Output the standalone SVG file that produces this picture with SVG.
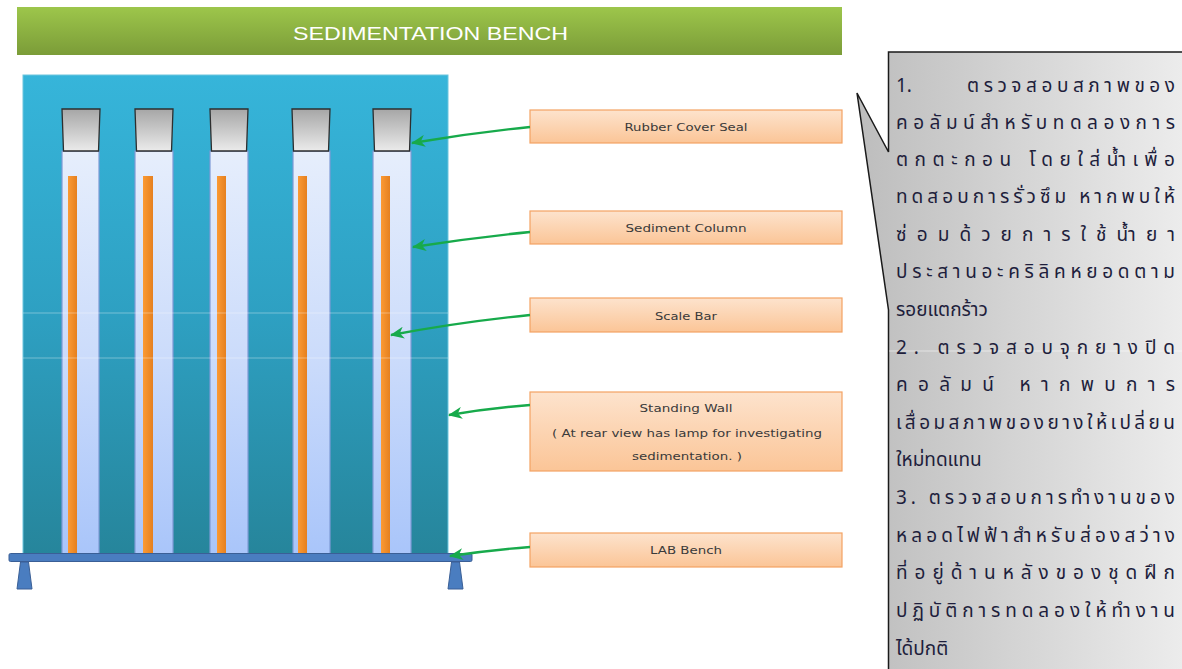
<svg xmlns="http://www.w3.org/2000/svg" width="1182" height="669" viewBox="0 0 1182 669">
  <defs>
    <linearGradient id="gTitle" x1="0" y1="0" x2="0" y2="1">
      <stop offset="0" stop-color="#9dc64b"/>
      <stop offset="1" stop-color="#7b9c38"/>
    </linearGradient>
    <linearGradient id="gWall" x1="0" y1="0" x2="0" y2="1">
      <stop offset="0" stop-color="#36b5da"/>
      <stop offset="0.5" stop-color="#2ea0c2"/>
      <stop offset="1" stop-color="#26859b"/>
    </linearGradient>
    <linearGradient id="gTube" x1="0" y1="0" x2="0" y2="1">
      <stop offset="0" stop-color="#e6eefc"/>
      <stop offset="0.5" stop-color="#ccdcfb"/>
      <stop offset="1" stop-color="#a9c5fa"/>
    </linearGradient>
    <linearGradient id="gCap" x1="0" y1="0" x2="0" y2="1">
      <stop offset="0" stop-color="#a6a6a6"/>
      <stop offset="1" stop-color="#ebebeb"/>
    </linearGradient>
    <linearGradient id="gBar" x1="0" y1="0" x2="1" y2="0">
      <stop offset="0" stop-color="#fb9a34"/>
      <stop offset="1" stop-color="#e5801f"/>
    </linearGradient>
    <linearGradient id="gBox" x1="0" y1="0" x2="0" y2="1">
      <stop offset="0" stop-color="#fde3cd"/>
      <stop offset="1" stop-color="#fbc597"/>
    </linearGradient>
    <linearGradient id="gNote" x1="857" y1="0" x2="1182" y2="0" gradientUnits="userSpaceOnUse">
      <stop offset="0" stop-color="#bdbdbd"/>
      <stop offset="1" stop-color="#ececec"/>
    </linearGradient>
    <marker id="arrow" viewBox="0 0 14 12" refX="13" refY="6" markerWidth="14" markerHeight="12" markerUnits="userSpaceOnUse" orient="auto">
      <path d="M14,6 L0,0 L4,6 L0,12 Z" fill="#17aa4b"/>
    </marker>
  </defs>
  <style>
    .tube { fill: url(#gTube); stroke: #7d9ad6; stroke-width: 1.2; }
    .cap { fill: url(#gCap); stroke: #2e2e2e; stroke-width: 1.3; }
    .bar { fill: url(#gBar); }
    .box { fill: url(#gBox); stroke: #f4a263; stroke-width: 1.2; }
    .lbl { font-family: "DejaVu Sans", "Liberation Sans", sans-serif; font-size: 11px; fill: #3a3a3a; text-anchor: middle; }
    .conn { fill: none; stroke: #17aa4b; stroke-width: 2.4; }
    .th { font-family: "Noto Sans Thai", "Noto Sans", "DejaVu Sans", sans-serif; font-size: 19px; fill: #1e1e3c; }
    .leg { fill: #4a7dc0; stroke: #3a5f96; stroke-width: 1; }
  </style>

  <!-- header bar -->
  <g id="title">
    <rect x="17" y="7" width="825" height="48" fill="url(#gTitle)"/>
    <text x="430.5" y="40" text-anchor="middle" font-family="Liberation Sans, sans-serif" font-size="19" fill="#ffffff" textLength="275" lengthAdjust="spacingAndGlyphs">SEDIMENTATION BENCH</text>
  </g>

  <!-- standing wall -->
  <g id="wall">
    <rect x="23" y="75" width="425" height="480" fill="url(#gWall)" stroke="#6cc6de" stroke-width="1"/>
  </g>

  <!-- sediment columns with caps and scale bars -->
  <g id="col1">
    <rect class="tube" x="62" y="151" width="37" height="404"/>
    <rect class="bar" x="68" y="176" width="9" height="379"/>
    <path class="cap" d="M62,109 H100 L98.5,151 H63.5 Z"/>
  </g>
  <g id="col2">
    <rect class="tube" x="135" y="151" width="38" height="404"/>
    <rect class="bar" x="143" y="176" width="10" height="379"/>
    <path class="cap" d="M135,109 H173 L171.5,151 H136.5 Z"/>
  </g>
  <g id="col3">
    <rect class="tube" x="210" y="151" width="38" height="404"/>
    <rect class="bar" x="217" y="176" width="9" height="379"/>
    <path class="cap" d="M210,109 H248 L246.5,151 H211.5 Z"/>
  </g>
  <g id="col4">
    <rect class="tube" x="293" y="151" width="37" height="404"/>
    <rect class="bar" x="298" y="176" width="9" height="379"/>
    <path class="cap" d="M292,109 H330 L328.5,151 H293.5 Z"/>
  </g>
  <g id="col5">
    <rect class="tube" x="373" y="151" width="38" height="404"/>
    <rect class="bar" x="381" y="176" width="9" height="379"/>
    <path class="cap" d="M373,109 H411 L409.5,151 H374.5 Z"/>
  </g>

  <!-- faint level lines across the wall -->
  <g id="levels" stroke="#ffffff" stroke-opacity="0.35" stroke-width="1">
    <line x1="23" y1="313" x2="448" y2="313"/>
    <line x1="23" y1="358" x2="448" y2="358"/>
  </g>

  <!-- lab bench -->
  <g id="bench">
    <rect x="9" y="553.5" width="463" height="8" rx="1.5" fill="#4a7dc0" stroke="#3a5f96" stroke-width="1"/>
    <path class="leg" d="M20.5,562 H28.5 L32,589 H17 Z"/>
    <path class="leg" d="M451.5,562 H459.5 L463,589 H448 Z"/>
  </g>

  <!-- label boxes -->
  <g id="lbl-rubber">
    <rect class="box" x="530" y="110" width="312" height="33"/>
    <text class="lbl" x="686" y="131" textLength="123" lengthAdjust="spacingAndGlyphs">Rubber Cover Seal</text>
  </g>
  <g id="lbl-column">
    <rect class="box" x="530" y="211" width="312" height="33"/>
    <text class="lbl" x="686" y="232" textLength="121" lengthAdjust="spacingAndGlyphs">Sediment Column</text>
  </g>
  <g id="lbl-scale">
    <rect class="box" x="530" y="298" width="312" height="34"/>
    <text class="lbl" x="686" y="320" textLength="62" lengthAdjust="spacingAndGlyphs">Scale Bar</text>
  </g>
  <g id="lbl-wall">
    <rect class="box" x="530" y="392" width="312" height="79"/>
    <text class="lbl" x="686" y="412" textLength="93" lengthAdjust="spacingAndGlyphs">Standing Wall</text>
    <text class="lbl" x="687" y="437" textLength="270" lengthAdjust="spacingAndGlyphs">( At rear view has lamp for investigating</text>
    <text class="lbl" x="687" y="460" textLength="110" lengthAdjust="spacingAndGlyphs">sedimentation. )</text>
  </g>
  <g id="lbl-bench">
    <rect class="box" x="530" y="533" width="312" height="34"/>
    <text class="lbl" x="686" y="554" textLength="72" lengthAdjust="spacingAndGlyphs">LAB Bench</text>
  </g>

  <!-- connectors -->
  <g id="connectors">
    <path class="conn" d="M530,127 Q470,133 412,143" marker-end="url(#arrow)"/>
    <path class="conn" d="M530,232 Q470,238 413,247" marker-end="url(#arrow)"/>
    <path class="conn" d="M530,315 Q460,322 391,335" marker-end="url(#arrow)"/>
    <path class="conn" d="M530,405 Q490,408 449,415" marker-end="url(#arrow)"/>
    <path class="conn" d="M530,547 Q490,550 450,556" marker-end="url(#arrow)"/>
  </g>

  <!-- maintenance notes callout -->
  <g id="notes">
    <path d="M888.5,52 H1183 V670 H888.5 V310 L857,93 L888.5,152 Z" fill="url(#gNote)" stroke="#1a1a1a" stroke-width="1.5" stroke-linejoin="miter"/>
    <line x1="889" y1="351" x2="1182" y2="351" stroke="#ffffff" stroke-opacity="0.5" stroke-width="1"/>
    <text class="th" x="896" y="92">1.</text>
    <text class="th" x="967" y="92" textLength="208" lengthAdjust="spacing">ตรวจสอบสภาพของ</text>
    <text class="th" x="896" y="129" textLength="279" lengthAdjust="spacing">คอลัมน์สำหรับทดลองการ</text>
    <text class="th" x="896" y="166" textLength="279" lengthAdjust="spacing">ตกตะกอน โดยใส่น้ำเพื่อ</text>
    <text class="th" x="896" y="203" textLength="279" lengthAdjust="spacing">ทดสอบการรั่วซึม หากพบให้</text>
    <text class="th" x="896" y="241" textLength="279" lengthAdjust="spacing">ซ่อมด้วยการใช้น้ำยา</text>
    <text class="th" x="896" y="278" textLength="279" lengthAdjust="spacing">ประสานอะคริลิคหยอดตาม</text>
    <text class="th" x="896" y="316">รอยแตกร้าว</text>
    <text class="th" x="896" y="354" textLength="279" lengthAdjust="spacing">2. ตรวจสอบจุกยางปิด</text>
    <text class="th" x="896" y="391" textLength="279" lengthAdjust="spacing">คอลัมน์ หากพบการ</text>
    <text class="th" x="896" y="429" textLength="279" lengthAdjust="spacing">เสื่อมสภาพของยางให้เปลี่ยน</text>
    <text class="th" x="896" y="466">ใหม่ทดแทน</text>
    <text class="th" x="896" y="504" textLength="279" lengthAdjust="spacing">3. ตรวจสอบการทำงานของ</text>
    <text class="th" x="896" y="542" textLength="279" lengthAdjust="spacing">หลอดไฟฟ้าสำหรับส่องสว่าง</text>
    <text class="th" x="896" y="579" textLength="279" lengthAdjust="spacing">ที่อยู่ด้านหลังของชุดฝึก</text>
    <text class="th" x="896" y="617" textLength="279" lengthAdjust="spacing">ปฏิบัติการทดลองให้ทำงาน</text>
    <text class="th" x="896" y="655">ได้ปกติ</text>
  </g>
</svg>
